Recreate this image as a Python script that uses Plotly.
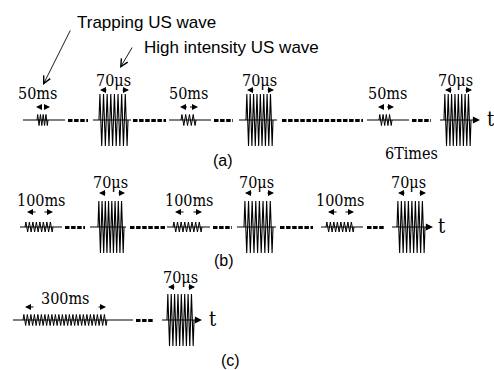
import plotly.graph_objects as go

# ---- content (text / values) ----
row_names = ["(a)", "(b)", "(c)"]
trap_labels = ["50ms", "100ms", "300ms"]
trap_cycles = [4, 8, 24]
hi_label = "70μs"
hi_cycles = 8
repeat_label = "6Times"
axis_label = "t"
callouts = ["Trapping US wave", "High intensity US wave"]

# ---- layout geometry (pixel space) ----
W, H = 494, 370
rows = [
    dict(y=120,
         lines=[(23, 65), (93, 131), (169, 211), (239, 277), (367, 409)],
         arrow=(440, 480), t=(491, 120),
         dots=[(68, 88), (133, 166), (214, 233), (282, 363), (412, 431)],
         small=[(37, 48), (181, 196), (379, 392)], samp=5.5,
         big=[(99, 128), (246, 273), (444, 471)],
         slab=[37, 188, 387], slab_y=93, sarr_y=107, sarr_gap=[0, 0, 0],
         blab=[113, 259, 455], blab_y=80, barr_y=90,
         name=(223, 160)),
    dict(y=227,
         lines=[(20, 62), (90, 126), (167, 210), (237, 276), (321, 363)],
         arrow=(392, 433), t=(442, 227),
         dots=[(65, 85), (130, 166), (213, 232), (280, 313), (367, 385)],
         small=[(25, 53), (173, 202), (326, 354)], samp=5,
         big=[(98, 124), (244, 273), (397, 425)],
         slab=[41, 189, 340], slab_y=200, sarr_y=212, sarr_gap=[1, 1, 1],
         blab=[110, 256, 408], blab_y=182, barr_y=193,
         name=(224, 260)),
    dict(y=320,
         lines=[(13, 133)],
         arrow=(162, 202), t=(213, 320),
         dots=[(136, 154)],
         small=[(23, 107)], samp=5.5,
         big=[(167, 194)],
         slab=[65], slab_y=298, sarr_y=307, sarr_gap=[1],
         blab=[180], blab_y=277, barr_y=287,
         name=(230, 360)),
]
BIG_AMP = 26
SERIF = "DejaVu Serif Condensed, DejaVu Serif"
SERIF_SIZE = 16
SANS = "Liberation Sans"

fig = go.Figure()
ann = []


def zig(x0, x1, yc, amp, cycles):
    n = 2 * cycles
    xs = [x0] + [x0 + (i + 0.5) * (x1 - x0) / n for i in range(n)] + [x1]
    ys = [yc] + [yc - amp if i % 2 == 0 else yc + amp for i in range(n)] + [yc]
    return xs, ys


def line(xs, ys, w=1.2, dash=None):
    fig.add_trace(go.Scatter(x=xs, y=ys, mode="lines", hoverinfo="skip",
                             line=dict(color="black", width=w, dash=dash)))


def arrow(xh, yh, xt, yt, head=2, size=1.0, w=1.2):
    ann.append(dict(x=xh, y=yh, ax=xt, ay=yt, xref="x", yref="y", axref="x", ayref="y",
                    text="", showarrow=True, arrowhead=head, arrowsize=size,
                    arrowwidth=w, arrowcolor="black"))


def text(x, y, s, font=SERIF, size=SERIF_SIZE):
    ann.append(dict(x=x, y=y, xref="x", yref="y", text=s, showarrow=False,
                    xanchor="center", yanchor="middle",
                    font=dict(family=font, size=size, color="black")))


for ri, r in enumerate(rows):
    yc = r["y"]
    for x0, x1 in r["lines"]:
        line([x0, x1], [yc, yc])
    line([r["arrow"][0], r["arrow"][1] - 3], [yc, yc])
    arrow(r["arrow"][1], yc, r["arrow"][1] - 4, yc, head=2, size=1.1, w=1.3)
    text(r["t"][0], r["t"][1] - 1, axis_label, size=20)
    for x0, x1 in r["dots"]:
        line([x0, x1], [yc + 0.5, yc + 0.5], w=3.2, dash="4.5px,1.6px")
    for x0, x1 in r["small"]:
        xs, ys = zig(x0, x1, yc, r["samp"], trap_cycles[ri])
        line(xs, ys, w=1.0)
    for x0, x1 in r["big"]:
        xs, ys = zig(x0, x1, yc, BIG_AMP, hi_cycles)
        line(xs, ys, w=1.1)
    for k, cx in enumerate(r["slab"]):
        text(cx, r["slab_y"], trap_labels[ri])
        x0, x1 = r["small"][k]
        if r["sarr_gap"][k]:
            L = 10
            arrow(x0 + 2, r["sarr_y"], x0 + 2 + L, r["sarr_y"])
            arrow(x1 + (0 if ri < 2 else -1), r["sarr_y"], x1 - L, r["sarr_y"])
        else:
            mid = (x0 + x1) / 2
            arrow(x0 - 1, r["sarr_y"], mid, r["sarr_y"])
            arrow(x1 + 2, r["sarr_y"], mid, r["sarr_y"])
    for k, cx in enumerate(r["blab"]):
        text(cx, r["blab_y"], hi_label)
        x0, x1 = r["big"][k]
        arrow(x0 + 1, r["barr_y"], x0 + 9, r["barr_y"])
        arrow(x1 + 1, r["barr_y"], x1 - 7, r["barr_y"])
    text(r["name"][0], r["name"][1], row_names[ri], font=SANS, size=16)

text(411, 153, repeat_label)

text(146, 22, callouts[0], font=SANS, size=17)
text(231, 47, callouts[1], font=SANS, size=17)
arrow(43, 85, 71, 29, head=5, size=1.6, w=0.9)
arrow(120, 68, 133, 46, head=5, size=1.6, w=0.9)

fig.update_layout(
    width=W, height=H, margin=dict(l=0, r=0, t=0, b=0),
    paper_bgcolor="white", plot_bgcolor="white", showlegend=False,
    xaxis=dict(range=[0, W], visible=False, fixedrange=True),
    yaxis=dict(range=[H, 0], visible=False, fixedrange=True),
    annotations=ann,
)
fig.write_html("out.html")
